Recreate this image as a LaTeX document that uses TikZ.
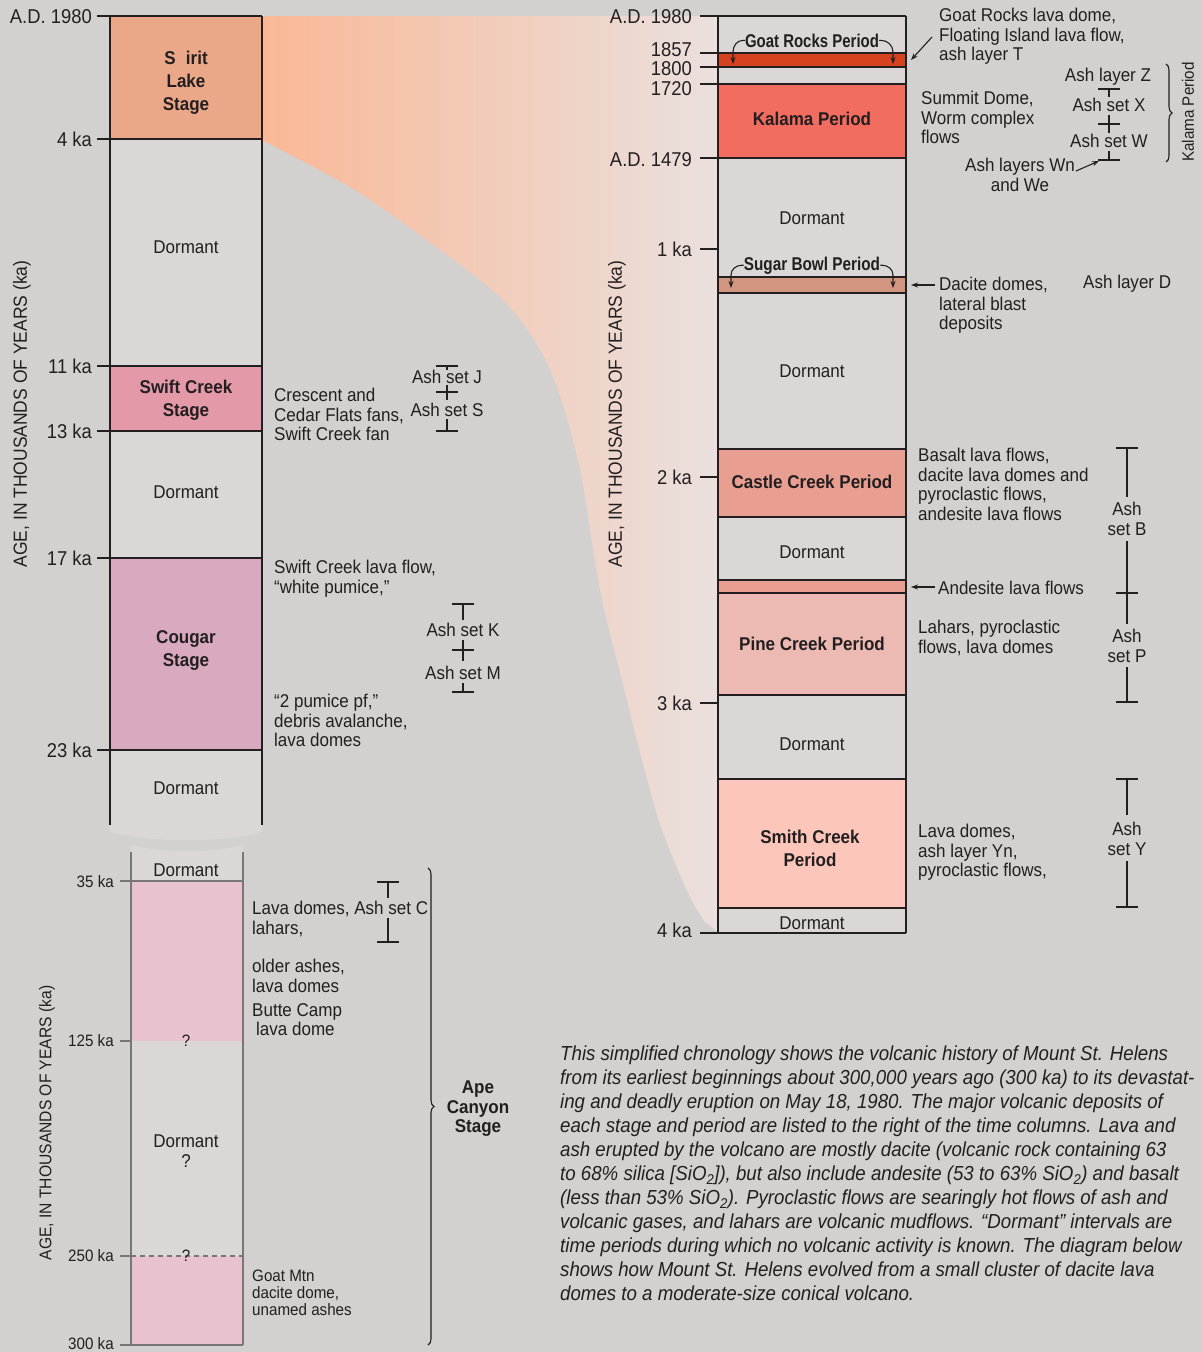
\documentclass[tikz,border=0pt]{standalone}
\usepackage{fontspec}
\setmainfont{Liberation Sans}[FakeStretch=0.92]
\usetikzlibrary{arrows.meta,decorations.pathreplacing}
\definecolor{bg}{RGB}{211,208,208}
\definecolor{dorm}{RGB}{219,215,215}
\definecolor{ink}{RGB}{35,31,32}
\definecolor{spirit}{RGB}{234,168,136}
\definecolor{swift}{RGB}{227,153,168}
\definecolor{cougar}{RGB}{217,169,191}
\definecolor{ape}{RGB}{232,194,206}
\definecolor{goat}{RGB}{214,66,32}
\definecolor{kalama}{RGB}{242,108,96}
\definecolor{sugar}{RGB}{210,150,128}
\definecolor{castle}{RGB}{232,158,144}
\definecolor{pine}{RGB}{236,186,178}
\definecolor{smith}{RGB}{252,198,186}
\definecolor{fanL}{RGB}{250,184,150}
\definecolor{fanR}{RGB}{234,224,222}
\definecolor{gline}{RGB}{120,118,118}
\newcommand\fmain{\fontsize{18.5}{19.5}\selectfont}
\newcommand\fstage{\fontsize{18.5}{23}\selectfont\bfseries}
\newcommand\ftick{\fontsize{20}{22}\selectfont}
\newcommand\fsmall{\fontsize{16.5}{17}\selectfont}
\newcommand\fcap{\fontsize{20.3}{24}\selectfont\itshape}
\newcommand\faxis{\fontsize{19}{21}\selectfont}
\newcommand\faxisb{\fontsize{17}{19}\selectfont}
\begin{document}
\begin{tikzpicture}[x=1pt,y=-1pt,
  every node/.style={inner sep=0pt, text=ink},
  bline/.style={draw=ink, line width=1.8pt},
  cline/.style={draw=ink, line width=2pt},
  gl/.style={draw=gline, line width=1.5pt},
  bar/.style={draw=ink, line width=1.1pt},
  arr/.style={draw=ink, line width=1.1pt, -{Stealth[length=7pt,width=5pt]}},
  tl/.style={font=\ftick, anchor=base east},
  tls/.style={font=\fsmall, anchor=base east},
  txt/.style={font=\fmain, anchor=north west, align=left},
  ctr/.style={font=\fmain, anchor=base},
  stage/.style={font=\fstage, anchor=north, align=center},
  brc/.style={draw=ink, line width=1.1pt, decorate, decoration={brace, amplitude=6pt}}]
\useasboundingbox (0,0) rectangle (1202,1352);
\fill[bg] (0,0) rectangle (1202,1352);
% fan
\shade[left color=fanL, right color=fanR] (262,16) -- (718,16) -- (718,932)
  -- plot[smooth] coordinates {(705,922) (688,893) (661,827) (642,760) (622,680) (600,590) (578,460) (548,365) (503,300) (417,233) (350,187) (262,140)} -- cycle;

% ===== left upper column =====
\fill[spirit] (110,16) rectangle (262,139);
\fill[dorm] (110,139) rectangle (262,366);
\fill[swift] (110,366) rectangle (262,431);
\fill[dorm] (110,431) rectangle (262,558);
\fill[cougar] (110,558) rectangle (262,750);
\fill[dorm] (110,750) -- (262,750) -- (262,832) .. controls (224,843) and (148,843) .. (110,832) -- cycle;
\foreach \y in {16,139,366,431,558,750} \draw[bline] (97,\y) -- (262,\y);
\draw[cline] (110,16) -- (110,825);
\draw[cline] (262,16) -- (262,825);
\node[tl] (l1980) at (92,23) {A.D. 1980};
\node[tl] (l4) at (92,146) {4 ka};
\node[tl] (l11) at (92,373) {11 ka};
\node[tl] (l13) at (92,438) {13 ka};
\node[tl] (l17) at (92,565) {17 ka};
\node[tl] (l23) at (92,757) {23 ka};
\node[stage] (spl) at (186,51) {S\phantom{p}irit\\Lake\\Stage};
\node[ctr] (d1) at (186,253) {Dormant};
\node[stage] (swl) at (186,380) {Swift Creek\\Stage};
\node[ctr] (d2) at (186,498) {Dormant};
\node[stage] (col) at (186,630) {Cougar\\Stage};
\node[ctr] (d3) at (186,794) {Dormant};
\node[font=\faxis, rotate=90] (axL) at (22,414) {AGE, IN THOUSANDS OF YEARS (ka)};

\node[txt] (tcres) at (274,388) {Crescent and\\Cedar Flats fans,\\Swift Creek fan};
\node[ctr] (aJ) at (447,383) {Ash set J};
\node[ctr] (aS) at (447,416) {Ash set S};
\draw[bar] (436,366) -- (458,366) (447,366) -- (447,370);
\draw[bar] (436,392) -- (458,392) (447,385) -- (447,400);
\draw[bar] (436,431) -- (458,431) (447,419) -- (447,431);
\node[txt] (tswift) at (274,560) {Swift Creek lava flow,\\“white pumice,”};
\node[ctr] (aK) at (463,636) {Ash set K};
\node[ctr] (aM) at (463,679) {Ash set M};
\draw[bar] (452,604) -- (474,604) (463,604) -- (463,620);
\draw[bar] (452,650) -- (474,650) (463,640) -- (463,661);
\draw[bar] (452,692) -- (474,692) (463,683) -- (463,692);
\node[txt] (tpum) at (274,694) {“2 pumice pf,”\\debris avalanche,\\lava domes};

% ===== left lower column =====
\fill[dorm] (131,881) -- (131,845) .. controls (160,853) and (212,853) .. (243,845) -- (243,881) -- cycle;
\fill[ape] (131,881) rectangle (243,1041);
\fill[dorm] (131,1041) rectangle (243,1256);
\fill[ape] (131,1256) rectangle (243,1345);
\draw[gl] (131,852) -- (131,1345);
\draw[gl] (243,852) -- (243,1345);
\draw[gl] (120,881) -- (243,881);
\draw[gl] (120,1041) -- (131,1041);
\draw[gl] (120,1256) -- (131,1256);
\draw[gl, dashed, dash pattern=on 5pt off 4pt] (131,1256) -- (243,1256);
\draw[gl] (120,1345) -- (243,1345);
\node[tls] (l35) at (114,887) {35 ka};
\node[tls] (l125) at (114,1046) {125 ka};
\node[tls] (l250) at (114,1261) {250 ka};
\node[tls] (l300) at (114,1349) {300 ka};
\node[ctr] (d4) at (186,876) {Dormant};
\node[font=\fsmall, anchor=base] (q1) at (186,1046) {?};
\node[font=\fmain, anchor=north, align=center] (d5) at (186,1135) {Dormant\\?};
\node[font=\fsmall, anchor=base] (q2) at (186,1261) {?};
\node[font=\faxisb, rotate=90] (axB) at (47,1123) {AGE, IN THOUSANDS OF YEARS (ka)};
\node[txt] (tlava) at (252,901) {Lava domes, Ash set C\\lahars,};
\draw[bar] (377,882) -- (399,882) (388,882) -- (388,898);
\draw[bar] (377,942) -- (399,942) (388,918) -- (388,942);
\node[txt] (told) at (252,959) {older ashes,\\lava domes};
\node[txt] (tbutte) at (252,1003) {Butte Camp\\\hspace*{4pt}lava dome};
\node[font=\fsmall, anchor=north west, align=left] (tgoat) at (252,1270) {Goat Mtn\\dacite dome,\\unamed ashes};
\draw[brc] (428,868) -- (428,1345);
\node[font=\fmain\bfseries, anchor=north, align=center] (ape) at (478,1081) {Ape\\Canyon\\Stage};

% ===== right column =====
\fill[dorm] (718,16) rectangle (906,53);
\fill[goat] (718,53) rectangle (906,67);
\fill[dorm] (718,67) rectangle (906,84);
\fill[kalama] (718,84) rectangle (906,158);
\fill[dorm] (718,158) rectangle (906,277);
\fill[sugar] (718,277) rectangle (906,293);
\fill[dorm] (718,293) rectangle (906,449);
\fill[castle] (718,449) rectangle (906,517);
\fill[dorm] (718,517) rectangle (906,580);
\fill[castle] (718,580) rectangle (906,593);
\fill[pine] (718,593) rectangle (906,695);
\fill[dorm] (718,695) rectangle (906,779);
\fill[smith] (718,779) rectangle (906,908);
\fill[dorm] (718,908) rectangle (906,933);
\foreach \y in {16,53,67,84,158,277,293,449,517,580,593,695,779,908,933} \draw[bline] (718,\y) -- (906,\y);
\foreach \y in {16,53,67,84,158,249,477,703,933} \draw[bline] (700,\y) -- (718,\y);
\draw[cline] (718,16) -- (718,933);
\draw[cline] (906,16) -- (906,933);
\node[tl] (r1980) at (692,23) {A.D. 1980};
\node[tl] (r1857) at (692,56) {1857};
\node[tl] (r1800) at (692,75) {1800};
\node[tl] (r1720) at (692,95) {1720};
\node[tl] (r1479) at (692,166) {A.D. 1479};
\node[tl] (r1) at (692,256) {1 ka};
\node[tl] (r2) at (692,484) {2 ka};
\node[tl] (r3) at (692,710) {3 ka};
\node[tl] (r4) at (692,937) {4 ka};
\node[font=\faxis, rotate=90] (axR) at (617,414) {AGE, IN THOUSANDS OF YEARS (ka)};

\node[font=\fmain\bfseries, anchor=base] (gr) at (812,47) {\scalebox{0.88}[1]{Goat Rocks Period}};
\draw[arr] (gr.west) -- ++(-2,0) to[out=180,in=90] (733,52) -- (733,64);
\draw[arr] (gr.east) -- ++(2,0) to[out=0,in=90] (893,52) -- (893,64);
\node[font=\fmain\bfseries, anchor=base] (ka) at (812,125) {Kalama Period};
\node[ctr] (d6) at (812,224) {Dormant};
\node[font=\fmain\bfseries, anchor=base] (sb) at (812,270) {\scalebox{0.9}[1]{Sugar Bowl Period}};
\draw[arr] (sb.west) -- ++(-2,0) to[out=180,in=90] (731,275) -- (731,288);
\draw[arr] (sb.east) -- ++(2,0) to[out=0,in=90] (893,275) -- (893,288);
\node[ctr] (d7) at (812,377) {Dormant};
\node[font=\fmain\bfseries, anchor=base] (cc) at (812,488) {Castle Creek Period};
\node[ctr] (d8) at (812,558) {Dormant};
\node[font=\fmain\bfseries, anchor=base] (pc) at (812,650) {Pine Creek Period};
\node[ctr] (d9) at (812,750) {Dormant};
\node[stage] (sc) at (810,830) {Smith Creek\\Period};
\node[ctr] (d10) at (812,929) {Dormant};

\node[txt] (tgr) at (939,8) {Goat Rocks lava dome,\\Floating Island lava flow,\\ash layer T};
\coordinate (pgr) at (911,60);
\draw[arr] (932,37) -- (pgr);
\node[txt] (tsum) at (921,91) {Summit Dome,\\Worm complex\\flows};
\node[ctr] (aZ) at (1108,81) {Ash layer Z};
\node[ctr] (aX) at (1109,111) {Ash set X};
\node[ctr] (aW) at (1109,147) {Ash set W};
\draw[bar] (1098,89) -- (1120,89) (1109,89) -- (1109,97);
\draw[bar] (1098,124) -- (1120,124) (1109,115) -- (1109,133);
\draw[bar] (1098,160) -- (1120,160) (1109,151) -- (1109,160);
\node[font=\fmain, anchor=north, align=center] (aWn) at (1020,158) {Ash layers Wn\\and We};
\coordinate (pWn) at (1099,161);
\draw[arr] (1076,171) -- (pWn);
\draw[brc] (1166,64) -- (1166,162);
\node[font=\fsmall, rotate=90] (kp) at (1188,112) {Kalama Period};

\node[txt] (tdac) at (939,277) {Dacite domes,\\lateral blast\\deposits};
\coordinate (pdac) at (911,285);
\draw[arr] (935,285) -- (pdac);
\node[font=\fmain, anchor=base west] (aD) at (1083,288) {Ash layer D};

\node[txt] (tbas) at (918,448) {Basalt lava flows,\\dacite lava domes and\\pyroclastic flows,\\andesite lava flows};
\node[font=\fmain, anchor=base west] (tand) at (938,594) {Andesite lava flows};
\coordinate (pand) at (911,587);
\draw[arr] (935,587) -- (pand);
\node[txt] (tlah) at (918,620) {Lahars, pyroclastic\\flows, lava domes};
\node[font=\fmain, anchor=north, align=center] (aB) at (1127,502) {Ash\\set B};
\node[font=\fmain, anchor=north, align=center] (aP) at (1127,629) {Ash\\set P};
\draw[bar] (1116,448) -- (1138,448) (1127,448) -- (1127,497);
\draw[bar] (1116,593) -- (1138,593) (1127,541) -- (1127,624);
\draw[bar] (1116,702) -- (1138,702) (1127,667) -- (1127,702);
\node[txt] (tsmith) at (918,824) {Lava domes,\\ash layer Yn,\\pyroclastic flows,};
\node[font=\fmain, anchor=north, align=center] (aY) at (1127,822) {Ash\\set Y};
\draw[bar] (1116,779) -- (1138,779) (1127,779) -- (1127,815);
\draw[bar] (1116,907) -- (1138,907) (1127,861) -- (1127,907);

% caption
\node[font=\fcap, anchor=north west, align=left] (cap) at (560,1046) {This simplified chronology shows the volcanic history of Mount St. Helens\\
from its earliest beginnings about 300,000 years ago (300 ka) to its devastat-\\
ing and deadly eruption on May 18, 1980. The major volcanic deposits of\\
each stage and period are listed to the right of the time columns. Lava and\\
ash erupted by the volcano are mostly dacite (volcanic rock containing 63\\
to 68\% silica [SiO\textsubscript{2}]), but also include andesite (53 to 63\% SiO\textsubscript{2}) and basalt\\
(less than 53\% SiO\textsubscript{2}). Pyroclastic flows are searingly hot flows of ash and\\
volcanic gases, and lahars are volcanic mudflows. “Dormant” intervals are\\
time periods during which no volcanic activity is known. The diagram below\\
shows how Mount St. Helens evolved from a small cluster of dacite lava\\
domes to a moderate-size conical volcano.};
\end{tikzpicture}
\end{document}
